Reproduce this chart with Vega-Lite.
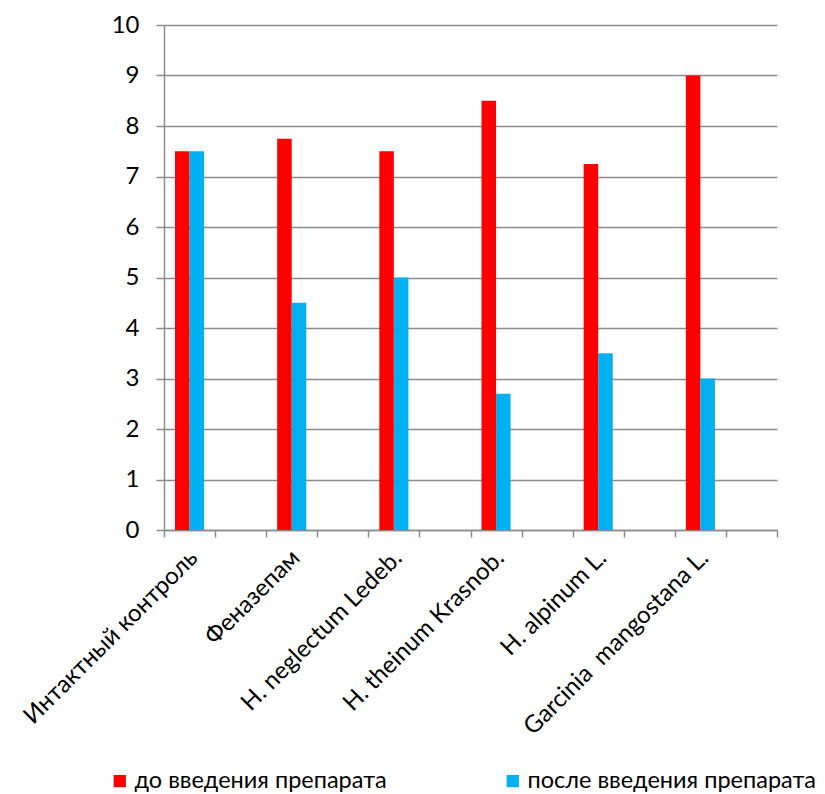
{
  "$schema": "https://vega.github.io/schema/vega-lite/v6.json",
  "autosize": {"type": "none"},
  "padding": {"left": 164, "top": 25, "right": 48, "bottom": 264},
  "width": 613,
  "height": 505,
  "background": "white",
  "config": {"view": {"stroke": null}, "font": "Lato"},
  "data": {
    "values": [
      {"cat": "Интактный контроль", "series": "до введения препарата", "value": 7.5},
      {"cat": "Интактный контроль", "series": "после введения препарата", "value": 7.5},
      {"cat": "Феназепам", "series": "до введения препарата", "value": 7.75},
      {"cat": "Феназепам", "series": "после введения препарата", "value": 4.5},
      {"cat": "H. neglectum Ledeb.", "series": "до введения препарата", "value": 7.5},
      {"cat": "H. neglectum Ledeb.", "series": "после введения препарата", "value": 5.0},
      {"cat": "H. theinum Krasnob.", "series": "до введения препарата", "value": 8.5},
      {"cat": "H. theinum Krasnob.", "series": "после введения препарата", "value": 2.7},
      {"cat": "H. alpinum L.", "series": "до введения препарата", "value": 7.25},
      {"cat": "H. alpinum L.", "series": "после введения препарата", "value": 3.5},
      {"cat": "Garcinia\u00a0 mangostana L.", "series": "до введения препарата", "value": 9.0},
      {"cat": "Garcinia\u00a0 mangostana L.", "series": "после введения препарата", "value": 3.0}
    ]
  },
  "mark": {"type": "bar"},
  "encoding": {
    "x": {
      "field": "cat",
      "type": "nominal",
      "sort": null,
      "scale": {
        "domain": ["Интактный контроль", "gap1", "Феназепам", "gap2", "H. neglectum Ledeb.", "gap3", "H. theinum Krasnob.", "gap4", "H. alpinum L.", "gap5", "Garcinia\u00a0 mangostana L.", "gap6"],
        "paddingInner": 0,
        "paddingOuter": 0
      },
      "axis": {
        "title": null,
        "labelExpr": "indexof(datum.label, 'gap') == 0 ? '' : datum.label",
        "labelAngle": -45,
        "labelAlign": "right",
        "labelBaseline": "middle",
        "labelFontSize": 24,
        "labelColor": "#000000",
        "labelPadding": 17,
        "labelOffset": 4,
        "tickBand": "extent",
        "tickSize": 7,
        "tickColor": "#8c8c8c",
        "tickWidth": 1.5,
        "domainColor": "#8c8c8c",
        "domainWidth": 1.5,
        "grid": false,
        "labelOverlap": false,
        "labelLimit": 400
      }
    },
    "xOffset": {
      "field": "series",
      "type": "nominal",
      "scale": {"paddingInner": 0, "paddingOuter": 0.756}
    },
    "y": {
      "field": "value",
      "type": "quantitative",
      "scale": {"domain": [0, 10], "nice": false},
      "axis": {
        "title": null,
        "values": [0, 1, 2, 3, 4, 5, 6, 7, 8, 9, 10],
        "labelFontSize": 24,
        "labelColor": "#000000",
        "labelPadding": 17,
        "tickSize": 8,
        "tickColor": "#8c8c8c",
        "tickWidth": 1.5,
        "domainColor": "#8c8c8c",
        "domainWidth": 1.5,
        "gridColor": "#8c8c8c",
        "gridWidth": 1.5
      }
    },
    "color": {
      "field": "series",
      "type": "nominal",
      "scale": {"domain": ["до введения препарата", "после введения препарата"], "range": ["#ff0000", "#00b0f0"]},
      "legend": {
        "title": null,
        "orient": "none",
        "direction": "horizontal",
        "legendX": -56,
        "legendY": 744,
        "symbolType": "square",
        "symbolSize": 150,
        "symbolStrokeWidth": 0,
        "labelFontSize": 23.5,
        "labelColor": "#000000",
        "labelOffset": 3,
        "columnPadding": 114,
        "labelLimit": 400
      }
    }
  }
}
